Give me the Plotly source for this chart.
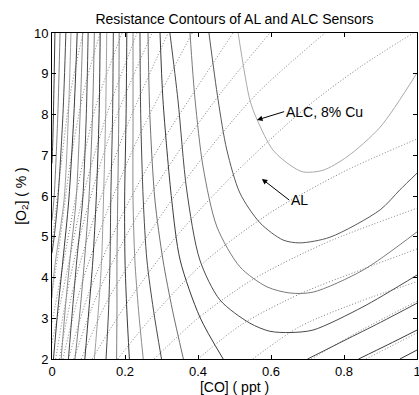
import plotly.graph_objects as go

# ---- axis ticks ----
x_ticks = [0, 0.2, 0.4, 0.6, 0.8, 1.0]
x_ticktext = ["0", "0.2", "0.4", "0.6", "0.8", "1"]
y_ticks = [2, 3, 4, 5, 6, 7, 8, 9, 10]

# ---- solid contours (AL sensor family) ----
solid_x = [
    [0.008, 0.005, 0.002, 0.0],
    [0.022, 0.016, 0.006, 0.0],
    [0.038, 0.030, 0.016, 0.006, 0.0],
    [0.052, 0.045, 0.033, 0.010, 0.003, 0.0],
    [0.069, 0.060, 0.046, 0.030, 0.016, 0.004],
    [0.084, 0.077, 0.066, 0.049, 0.036, 0.025],
    [0.099, 0.094, 0.084, 0.068, 0.056, 0.045],
    [0.116, 0.111, 0.101, 0.089, 0.077, 0.063],
    [0.132, 0.129, 0.121, 0.112, 0.101, 0.090],
    [0.150, 0.147, 0.141, 0.136, 0.127, 0.116],
    [0.168, 0.166, 0.161, 0.159, 0.155, 0.148],
    [0.184, 0.183, 0.180, 0.178, 0.178, 0.177],
    [0.205, 0.203, 0.199, 0.200, 0.205, 0.212],
    [0.222, 0.222, 0.222, 0.227, 0.237, 0.250],
    [0.241, 0.243, 0.250, 0.260, 0.278, 0.300],
    [0.263, 0.268, 0.282, 0.304, 0.330, 0.360],
    [0.296, 0.304, 0.328, 0.351, 0.405, 0.469],
    [0.323, 0.345, 0.369, 0.405, 0.460, 0.542, 0.597, 0.652, 0.715, 0.852, 1.0],
    [0.378, 0.392, 0.414, 0.452, 0.515, 0.589, 0.652, 0.715, 0.852, 1.0],
    [0.430, 0.455, 0.479, 0.515, 0.570, 0.633, 0.679, 0.762, 0.899, 0.953, 1.0],
    [0.510, 0.542, 0.562, 0.605, 0.652, 0.688, 0.742, 0.808, 0.899, 1.0],
    [0.700, 0.800, 0.900, 1.0],
    [0.840, 0.920, 1.0],
    [0.953, 1.0],
]
solid_y = [
    [10, 8.5, 7.3, 6.8],
    [10, 8.0, 6.0, 5.4],
    [10, 8.0, 5.9, 5.0, 4.6],
    [10, 8.0, 5.9, 4.43, 3.9, 3.5],
    [10, 8.0, 5.9, 4.43, 3.2, 2.0],
    [10, 8.0, 5.9, 4.43, 3.2, 2.0],
    [10, 8.0, 5.9, 4.43, 3.2, 2.0],
    [10, 8.0, 5.9, 4.43, 3.2, 2.0],
    [10, 8.0, 5.9, 4.43, 3.2, 2.0],
    [10, 8.0, 5.9, 4.43, 3.2, 2.0],
    [10, 8.0, 5.9, 4.43, 3.2, 2.0],
    [10, 8.0, 5.9, 4.43, 3.2, 2.0],
    [10, 8.0, 5.9, 4.43, 3.2, 2.0],
    [10, 8.0, 5.9, 4.43, 3.2, 2.0],
    [10, 8.0, 5.9, 4.43, 3.2, 2.0],
    [10, 8.0, 5.9, 4.43, 3.2, 2.0],
    [10, 8.36, 5.9, 4.43, 3.03, 2.0],
    [10, 8.36, 6.15, 4.43, 3.45, 2.88, 2.68, 2.65, 2.71, 3.28, 4.06],
    [10, 8.36, 6.71, 5.24, 4.26, 3.77, 3.62, 3.64, 4.18, 5.12],
    [10, 8.36, 7.13, 6.07, 5.34, 4.92, 4.85, 4.99, 5.66, 6.15, 6.56],
    [10, 8.36, 7.87, 7.13, 6.76, 6.59, 6.63, 6.96, 7.69, 9.02],
    [2.0, 2.45, 2.9, 3.37],
    [2.0, 2.35, 2.71],
    [2.0, 2.22],
]
solid_shade = [
    "#3a3a3a", "#808080", "#4a4a4a", "#a0a0a0", "#3a3a3a", "#8c8c8c",
    "#4a4a4a", "#808080", "#3a3a3a", "#a0a0a0", "#4a4a4a", "#808080",
    "#3a3a3a", "#8c8c8c", "#4a4a4a", "#707070", "#3a3a3a", "#4a4a4a",
    "#7a7a7a", "#585858", "#aaaaaa", "#4a4a4a", "#3a3a3a", "#3a3a3a",
]

# ---- dotted contours (ALC sensor family) ----
dotted_x = [
    [0.86, 0.93, 1.0],
    [0.71, 0.85, 1.0],
    [0.55, 0.68, 0.84, 1.0],
    [0.40, 0.52, 0.68, 0.85, 1.0],
    [0.28, 0.40, 0.55, 0.75, 1.0],
    [0.18, 0.28, 0.42, 0.60, 0.80, 1.0],
    [0.11, 0.20, 0.34, 0.50, 0.70, 0.85, 0.99],
    [0.08, 0.15, 0.26, 0.40, 0.56, 0.748],
    [0.06, 0.12, 0.22, 0.34, 0.46, 0.597],
    [0.045, 0.10, 0.19, 0.30, 0.40, 0.496],
    [0.03, 0.08, 0.15, 0.24, 0.384],
    [0.02, 0.06, 0.12, 0.20, 0.318],
    [0.01, 0.05, 0.10, 0.17, 0.274],
    [0.0, 0.04, 0.085, 0.15, 0.233],
    [0.0, 0.03, 0.07, 0.12, 0.192],
    [0.0, 0.02, 0.05, 0.085, 0.132],
    [0.0, 0.02, 0.05, 0.085],
]
dotted_y = [
    [2.0, 2.32, 2.64],
    [2.0, 2.72, 3.42],
    [2.0, 2.8, 3.4, 3.9],
    [2.0, 2.85, 3.6, 4.2, 4.7],
    [2.0, 3.0, 3.95, 4.85, 5.7],
    [2.0, 3.1, 4.4, 5.6, 6.6, 7.4],
    [2.0, 3.3, 5.0, 6.55, 8.2, 9.2, 10],
    [2.0, 3.4, 5.0, 6.8, 8.5, 10],
    [2.0, 3.5, 5.3, 7.0, 8.5, 10],
    [2.0, 3.6, 5.5, 7.3, 8.7, 10],
    [2.0, 3.8, 5.6, 7.5, 10],
    [2.0, 3.8, 5.6, 7.6, 10],
    [2.0, 4.0, 5.8, 7.8, 10],
    [2.4, 4.1, 6.0, 8.0, 10],
    [2.9, 4.3, 6.2, 8.2, 10],
    [3.6, 4.8, 6.8, 8.5, 10],
    [4.8, 6.4, 8.5, 10],
]

# ---- labels ----
title_text = "Resistance Contours of AL and ALC Sensors"
x_title = "[CO] ( ppt )"
y_title = "[O<sub>2</sub>] ( % )"
label_alc = "ALC, 8% Cu"
label_al = "AL"
# arrow tips and label anchors (data coordinates)
alc_tip = (0.5616, 7.865)
alc_anchor = (0.636, 8.07)
al_tip = (0.575, 6.42)
al_anchor = (0.650, 5.90)

FONT = "Liberation Sans, Arial, Helvetica, sans-serif"

fig = go.Figure()

for xs, ys in zip(dotted_x, dotted_y):
    fig.add_trace(go.Scatter(
        x=xs, y=ys, mode="lines",
        line=dict(color="#7a7a7a", width=1, dash="1px,2px", shape="spline", smoothing=0.8),
        hoverinfo="skip", showlegend=False))

for xs, ys, col in zip(solid_x, solid_y, solid_shade):
    fig.add_trace(go.Scatter(
        x=xs, y=ys, mode="lines",
        line=dict(color=col, width=1, shape="spline", smoothing=0.8),
        hoverinfo="skip", showlegend=False))

for label, tip, anchor in [(label_alc, alc_tip, alc_anchor), (label_al, al_tip, al_anchor)]:
    fig.add_annotation(x=tip[0], y=tip[1], ax=anchor[0], ay=anchor[1],
                       axref="x", ayref="y", text=label, showarrow=True,
                       xanchor="left", yanchor="middle",
                       arrowhead=2, arrowsize=1.1, arrowwidth=1, arrowcolor="black",
                       standoff=0, startstandoff=0,
                       font=dict(family=FONT, size=14, color="black"))

axis_common = dict(
    showline=True, linecolor="black", linewidth=1, mirror="ticks",
    ticks="inside", ticklen=4, tickcolor="black", tickwidth=1,
    showgrid=False, zeroline=False, automargin=False,
    ticklabeloverflow="allow",
    tickfont=dict(family=FONT, size=13, color="black"),
)

fig.update_layout(
    width=419, height=395,
    margin=dict(l=52, r=2, t=33, b=36),
    paper_bgcolor="white", plot_bgcolor="white",
    title=dict(text=title_text, x=0.5, xref="paper", y=1 - 19 / 395,
               yref="container", xanchor="center", yanchor="middle",
               font=dict(family=FONT, size=14, color="black")),
    xaxis=dict(range=[0, 1], tickvals=x_ticks, ticktext=x_ticktext,
               title=dict(text=x_title, standoff=3,
                          font=dict(family=FONT, size=14, color="black")),
               **axis_common),
    yaxis=dict(range=[2, 10], tickvals=y_ticks,
               title=dict(text=y_title, standoff=4,
                          font=dict(family=FONT, size=14, color="black")),
               **axis_common),
    showlegend=False,
)

fig.write_html(
    "out.html",
    config={"displayModeBar": False},
    post_script="document.body.style.margin='0';document.body.style.overflow='hidden';",
)
